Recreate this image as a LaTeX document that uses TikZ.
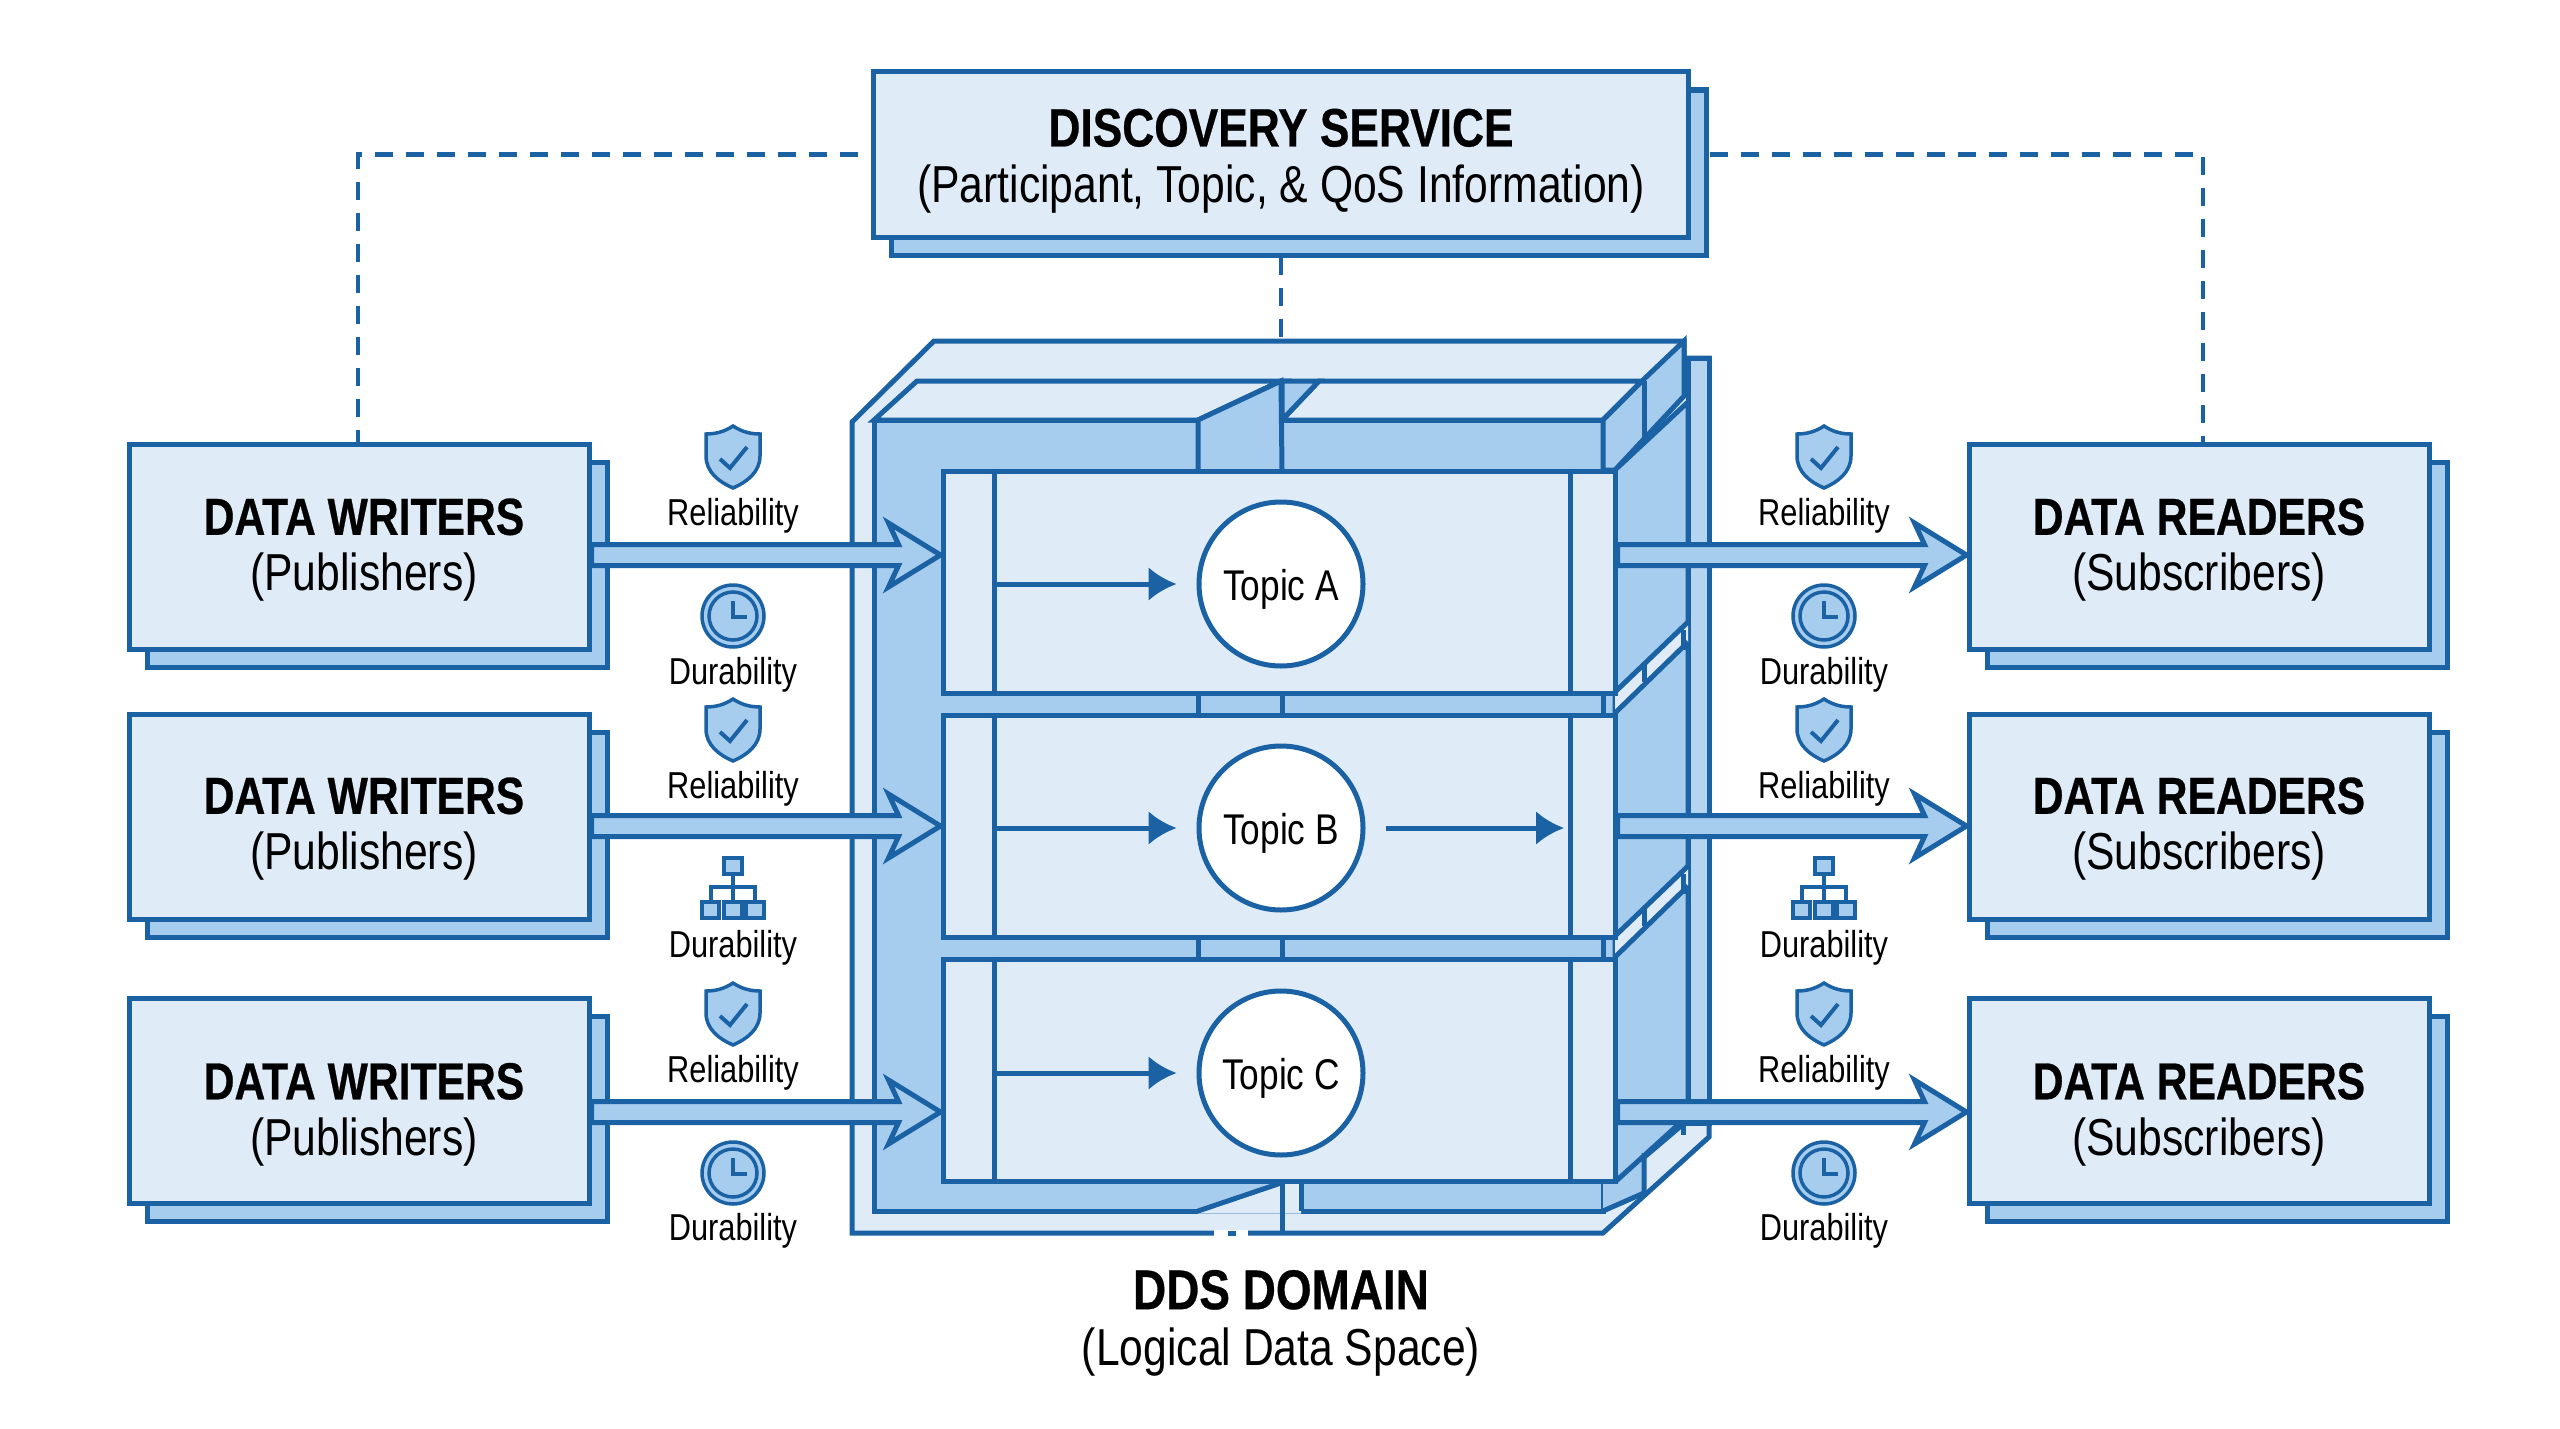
\documentclass[tikz,border=0pt]{standalone}
\usepackage{fontspec}
\setmainfont[FakeStretch=0.82,BoldFeatures={FakeBold=0.5}]{Liberation Sans}
\usetikzlibrary{arrows.meta,calc,shadows,backgrounds}
\definecolor{ddsline}{HTML}{1B62A4}
\definecolor{ddspale}{HTML}{DFECF8}
\definecolor{ddsmid}{HTML}{A6CCEE}
\newcommand{\titlefont}{\fontsize{52}{56}\selectfont\bfseries}
\tikzset{%
  palebox/.style  = {draw=ddsline, fill=ddspale, line width=5pt},%
  midbox/.style   = {draw=ddsline, fill=ddsmid, line width=5pt, line join=miter},%
  endpoint/.style = {palebox, minimum width=460, minimum height=205,%
                     copy shadow={draw=ddsline, fill=ddsmid, shadow xshift=18pt, shadow yshift=-18pt}},%
  endtext/.style  = {align=center, font=\fontsize{52}{56}\selectfont},%
  panel/.style    = {palebox, minimum width=672, minimum height=222},%
  topic/.style    = {circle, draw=ddsline, fill=white, line width=5pt, minimum size=164,%
                     text height=41pt, text depth=9pt, font=\fontsize{43}{46}\selectfont},%
  qos/.style      = {anchor=base, font=\fontsize{37.5}{40}\selectfont},%
  edge/.style     = {draw=ddsline, line width=5pt},%
  flow/.style     = {edge, -{Latex[length=28pt,width=34pt]}},%
  blockflow/.style= {draw=ddsline, fill=ddsmid, line width=5pt, line join=miter},%
  link/.style     = {draw=ddsline, line width=4.5pt, dash pattern=on 18pt off 13pt},%
  pics/shield/.style = {code={%
    \draw[midbox, line width=3.5pt] (0,0) .. controls (9,6) and (18,8) .. (27,8) -- (27,30)%
      .. controls (27,46) and (14,56) .. (0,62) .. controls (-14,56) and (-27,46) .. (-27,30)%
      -- (-27,8) .. controls (-18,8) and (-9,6) .. (0,0) -- cycle;%
    \draw[edge, line width=4pt] (-13,33) -- (-3,42) -- (14,21);%
  }},%
  pics/clock/.style = {code={%
    \draw[midbox, line width=3.5pt] (0,0) circle (31);%
    \draw[midbox, line width=3.5pt] (0,0) circle (24);%
    \draw[edge, line width=3.5pt] (0,-15) -- (0,1) -- (14,1);%
  }},%
  pics/hierarchy/.style = {code={%
    \draw[edge, line width=3.5pt] (0,16) -- (0,44) (-22,44) -- (-22,29) -- (22,29) -- (22,44);%
    \draw[midbox, line width=3.5pt] (-9,0) rectangle (9,16) (-31,44) rectangle (-14,60)%
      (-9,44) rectangle (9,60) (13,44) rectangle (31,60);%
  }}%
}
\newcommand{\blockarrow}[2]{%
  \draw[blockflow] ($(#1)+(0,-10.5)$) -- ($(#2)+(-42,-10.5)$) -- ($(#2)+(-52,-32)$) -- (#2)%
    -- ($(#2)+(-52,32)$) -- ($(#2)+(-42,10.5)$) -- ($(#1)+(0,10.5)$) -- cycle;%
}
\begin{document}
\begin{tikzpicture}[x=1pt,y=-1pt]%
	\useasboundingbox (0,0) rectangle (2560,1429);%
	% domain frame
	\draw[palebox, line join=miter] (852,1233) -- (852,422) -- (934,341) -- (1684,341) -- (1684,358)%
		-- (1709,358) -- (1709,1137) -- (1603,1233) -- cycle;%
	\draw[midbox, fill=ddsmid!75!ddspale] (1688,358) rectangle (1709,1123);%
	\draw[midbox] (874,420) rectangle (1603,1211);%
	\fill[ddsmid] (1603,470) rectangle (1616,1182);%
	\draw[palebox] (874,420) -- (917,381) -- (1281,381) -- (1198,420) -- cycle;%
	\draw[palebox] (1282,420) -- (1319,381) -- (1642,381) -- (1603,420) -- cycle;%
	\draw[midbox] (1198,470) -- (1198,420) -- (1281,381) -- (1282,470);%
	\draw[midbox] (1282,420) -- (1282,381) -- (1319,381) -- cycle;%
	\fill[ddspale] (1198,1213.5) -- (1281,1183) -- (1301,1183) -- (1301,1213.5) -- cycle;%
	\draw[edge] (1198,1211) -- (1281,1183);%
	\draw[edge] (1301,1180) -- (1301,1211);%
	\draw[edge] (1282,1183) -- (1282,1233);%
	\draw[midbox] (1603,420) -- (1642,381) -- (1684,341) -- (1684,396) -- (1615,470) -- (1603,470) -- cycle;%
	\draw[midbox] (1615,470) -- (1688,402) -- (1688,1120) -- (1615,1182) -- cycle;%
	\draw[edge] (1644,381) -- (1644,437);%
	\fill[ddsmid] (1603,1182) -- (1615,1182) -- (1644,1153) -- (1644,1195) -- (1603,1211) -- cycle;%
	\draw[edge] (1603,1211) -- (1644,1193) (1644,1153) -- (1644,1195) (1615,1182) -- (1680,1123);%
	\draw[edge] (1683,1120) -- (1683,1135);%
	\foreach \yg in {692,936}{%
		\fill[ddspale] (1615,\yg) -- (1688,\yg-70) -- (1688,\yg-50) -- (1615,\yg+21) -- cycle;%
		\draw[edge] (1615,\yg) -- (1688,\yg-70) (1615,\yg+21) -- (1688,\yg-50);%
		\draw[edge] (1644,\yg-28) -- (1644,\yg-10) (1683,\yg-62) -- (1683,\yg-42);%
		\draw[edge] (1198,\yg) -- (1198,\yg+21) (1282,\yg) -- (1282,\yg+21) (1603,\yg) -- (1603,\yg+21);%
	}%
	\draw[white, line width=6pt] (1214,1233) -- (1248,1233);%
	\draw[edge] (1228,1233) -- (1236,1233);%
	% topic panels
	\node[panel] (panelA) at (1279,582) {};%
	\node[panel] (panelB) at (1279,826) {};%
	\node[panel] (panelC) at (1279,1070) {};%
	\foreach \p in {panelA,panelB,panelC}{%
		\draw[edge] ([xshift=54]\p.north west) -- ([xshift=54]\p.south west);%
		\draw[edge] ([xshift=-47]\p.north east) -- ([xshift=-47]\p.south east);%
	}%
	\node[topic] (topicA) at (1281,584) {Topic A};%
	\node[topic] (topicB) at (1281,828) {Topic B};%
	\node[topic] (topicC) at (1281,1073) {Topic C};%
	\coordinate (barA) at (995,584);%
	\coordinate (barB) at (995,828);%
	\coordinate (barC) at (995,1073);%
	\coordinate (barOut) at (1564,828);%
	\draw[flow, shorten >=20pt] (barA) -- (topicA);%
	\draw[flow, shorten >=20pt] (barB) -- (topicB);%
	\draw[flow, shorten >=20pt] (barC) -- (topicC);%
	\draw[flow, shorten <=20pt] (topicB) -- (barOut);%
	% end points
	\node[endpoint] (writerA) at (359,547) {};%
	\node[endpoint] (writerB) at (359,816.5) {};%
	\node[endpoint] (writerC) at (359,1100.5) {};%
	\node[endpoint] (readerA) at (2199,547) {};%
	\node[endpoint] (readerB) at (2199,816.5) {};%
	\node[endpoint] (readerC) at (2199,1100.5) {};%
	\node[endpoint, minimum width=815, minimum height=165] (discovery) at (1281,154.5) {};%
	\node[endtext] (writerAtext) at (364,550) {{\titlefont DATA WRITERS}\\(Publishers)};%
	\node[endtext] (writerBtext) at (364,829) {{\titlefont DATA WRITERS}\\(Publishers)};%
	\node[endtext] (writerCtext) at (364,1114.5) {{\titlefont DATA WRITERS}\\(Publishers)};%
	\node[endtext] (readerAtext) at (2199,550) {{\titlefont DATA READERS}\\(Subscribers)};%
	\node[endtext] (readerBtext) at (2199,829) {{\titlefont DATA READERS}\\(Subscribers)};%
	\node[endtext] (readerCtext) at (2199,1114.5) {{\titlefont DATA READERS}\\(Subscribers)};%
	\node[endtext] (discoverytext) at (1281,161)%
		{{\titlefont\fontsize{54}{56}\selectfont DISCOVERY SERVICE}\\(Participant, Topic, \& QoS Information)};%
	% block arrows
	\foreach \r/\yr in {A/555,B/826,C/1112}{%
		\coordinate (in\r) at (panel\r.west |- 0,\yr);%
		\coordinate (from\r) at (writer\r.east |- 0,\yr);%
		\coordinate (out\r) at (panel\r.east |- 0,\yr);%
		\coordinate (to\r) at (reader\r.west |- 0,\yr);%
		\blockarrow{from\r}{in\r}%
		\blockarrow{out\r}{to\r}%
	}%
	% discovery links
	\coordinate (linkL) at (358,154.5);%
	\coordinate (linkR) at (2203,154.5);%
	\coordinate (domainTop) at (1281,339);%
	\begin{pgfonlayer}{background}%
		\draw[link, dash phase=18pt] (discovery.west) -- (linkL) -- (linkL |- writerA.north);%
		\draw[link, dash phase=12.5pt] (discovery.east) -- (linkR) -- (linkR |- readerA.north);%
		\draw[link, dash phase=14pt] (discovery.south) -- (domainTop);%
	\end{pgfonlayer}%
	% qos labels
	\foreach \side/\xc in {L/733,R/1824}{%
		\pic at (\xc,426) {shield};%
		\node[qos] (rel\side A) at (\xc,525) {Reliability};%
		\pic at (\xc,616) {clock};%
		\node[qos] (dur\side A) at (\xc,684) {Durability};%
		\pic at (\xc,699) {shield};%
		\node[qos] (rel\side B) at (\xc,798) {Reliability};%
		\pic at (\xc,858) {hierarchy};%
		\node[qos] (dur\side B) at (\xc,957) {Durability};%
		\pic at (\xc,983) {shield};%
		\node[qos] (rel\side C) at (\xc,1082) {Reliability};%
		\pic at (\xc,1173) {clock};%
		\node[qos] (dur\side C) at (\xc,1240) {Durability};%
	}%
	% domain label
	\node[endtext] (domain) at (1281,1323)%
		{{\titlefont\fontsize{56}{56}\selectfont DDS DOMAIN}\\(Logical Data Space)};%
\end{tikzpicture}
\end{document}
